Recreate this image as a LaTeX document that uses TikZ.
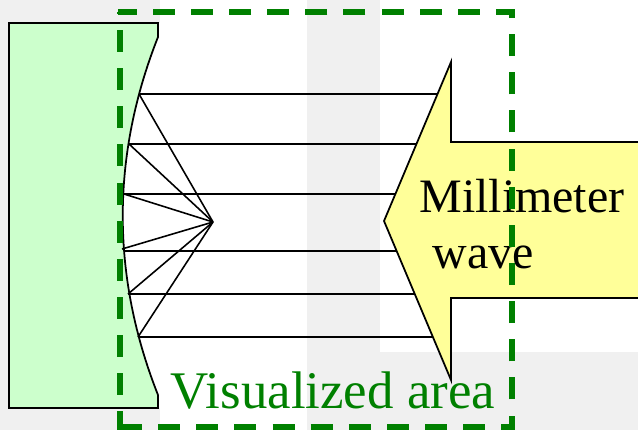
\documentclass[tikz,border=0pt]{standalone}
\usepackage{fontspec}
\setmainfont{Liberation Serif}
\usetikzlibrary{positioning}
\definecolor{mmgray}{HTML}{F0F0F0}
\definecolor{mmmint}{HTML}{CCFFCC}
\definecolor{mmyellow}{HTML}{FFFF99}
\definecolor{mmgreen}{HTML}{008000}

\begin{document}
\begin{tikzpicture}[
  x=0.02cm, y=-0.02cm,
  backdrop/.style={fill=mmgray, draw=none},
  mirror/.style={fill=mmmint, draw=black, line width=1pt, line join=miter},
  beam/.style={draw=black, line width=0.9pt},
  wave arrow/.style={fill=mmyellow, draw=black, line width=1pt, line join=miter},
  area frame/.style={draw=mmgreen, line width=2.9pt, dash pattern=on 0.44cm off 0.323cm},
  label/.style={font=\fontsize{27.3pt}{32pt}\selectfont, anchor=base west, inner sep=0pt},
]
  \useasboundingbox (0,0) rectangle (638,430);

  % Gray patches behind the picture.
  \fill[backdrop] (0,0) rectangle (160,23);
  \fill[backdrop] (0,23) rectangle (9,408);
  \fill[backdrop] (0,408) rectangle (160,430);
  \fill[backdrop] (307,0) rectangle (380,430);
  \fill[backdrop] (380,352) rectangle (638,430);

  % Curved mirror block.
  \path[mirror] (9,23) -- (158,23) -- (158,37)
    .. controls (111,156) and (111,276) .. (158,395)
    -- (158,408) -- (9,408) -- cycle;

  % Focus and points on the mirror.
  \coordinate (focus) at (213,222);
  \foreach \name/\x/\y in {a/139/94, b/129/144, c/124/194, d/122/249, e/128/294, f/138/337} {
    \coordinate (hit-\name) at (\x,\y);
    \draw[beam] (hit-\name) -- (focus);
  }

  % Incoming parallel beams, ending under the arrow.
  \foreach \name/\x/\y/\xend in {a/139/94/445, b/129/144/425, c/124/194/405, d/124/251/405, e/128/294/425, f/138/337/445} {
    \coordinate (in-\name) at (\x,\y);
    \coordinate (out-\name) at (\xend,\y);
    \draw[beam] (in-\name) -- (out-\name);
  }

  % Big arrow, open at the right edge.
  \path[wave arrow] (638,142) -- (451,142) -- (451,62) -- (384,221)
    -- (451,380) -- (451,298) -- (638,298);

  \node[label] (millimeter) at (419,212) {Millimeter};
  \node[label] (wave) at (432.5,268) {wave};

  % Visualized area: left side, then the other three.
  \draw[area frame, dash phase=0.403cm] (120,12) -- (120,429.5);
  \draw[area frame] (120,427) -- (512,427) -- (512,12) -- (118,12);
  \node[label, text=mmgreen, font=\fontsize{30.1pt}{34pt}\selectfont] (visualized) at (170.5,408) {Visualized area};
\end{tikzpicture}
\end{document}
